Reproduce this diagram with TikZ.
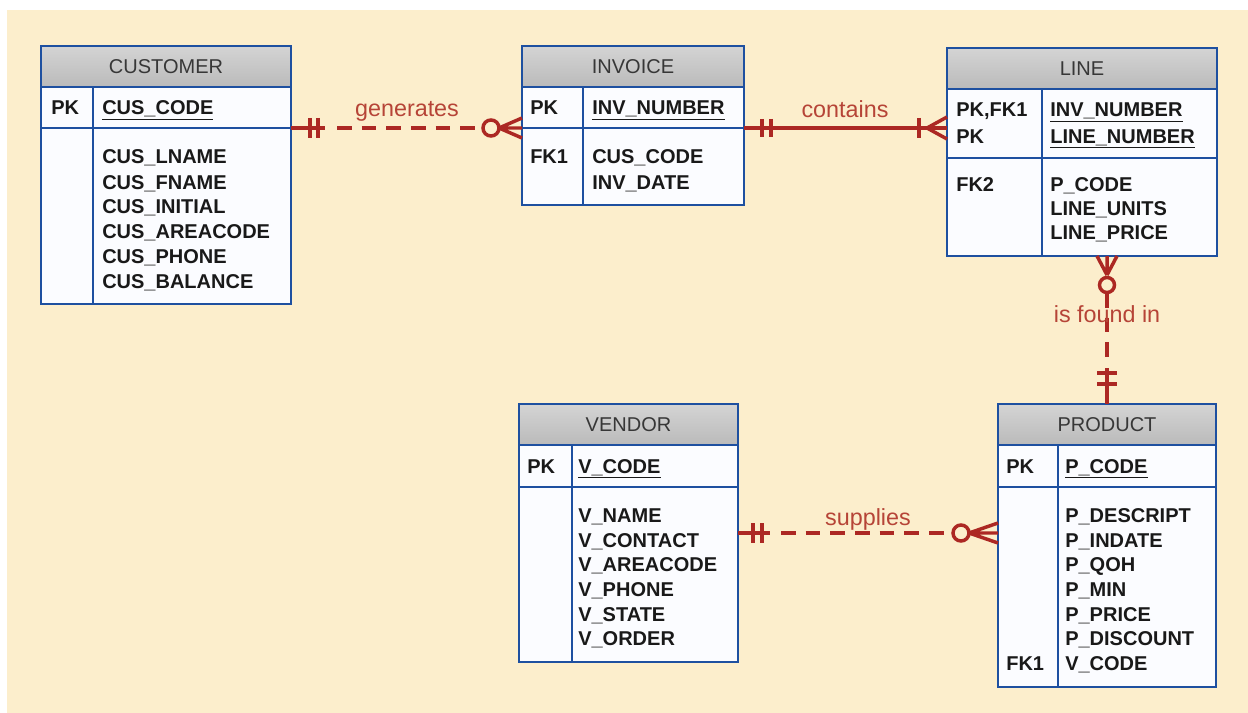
\documentclass[tikz,border=0pt]{standalone}
\usepackage{fontspec}
\setmainfont{Liberation Sans}
\usetikzlibrary{fit,calc}
\definecolor{bgcream}{RGB}{252,238,204}
\definecolor{tblblue}{RGB}{30,80,160}
\definecolor{hdrtop}{RGB}{212,212,212}
\definecolor{hdrbot}{RGB}{186,186,186}
\definecolor{bodyfill}{RGB}{251,252,255}
\definecolor{relred}{RGB}{172,40,35}
\definecolor{lblred}{RGB}{182,68,55}
\definecolor{titlegray}{RGB}{55,55,55}
\definecolor{attrblack}{RGB}{25,25,25}
\tikzset{
  tblbody/.style={draw=tblblue, line width=1.9pt, fill=bodyfill, inner sep=0pt, outer sep=0pt},
  tblhead/.style={draw=tblblue, line width=1.9pt, top color=hdrtop, bottom color=hdrbot, inner sep=0pt, outer sep=0pt},
  tblrow/.style={draw=tblblue, line width=1.9pt, inner sep=0pt, outer sep=0pt},
  tblline/.style={draw=tblblue, line width=1.9pt},
  ttl/.style={text=titlegray, font=\fontsize{15}{18}\selectfont, anchor=base, inner sep=0pt},
  attr/.style={font=\fontsize{15}{18}\selectfont\bfseries, text=attrblack, anchor=base west, inner sep=0pt},
  rel/.style={draw=relred, line width=2.6pt},
  reldash/.style={rel, dash pattern=on 11pt off 7.5pt},
  lbl/.style={text=lblred, font=\fontsize{17.5}{20}\selectfont, anchor=base, inner sep=0pt},
}
\newcommand\ertable[8]{%
  \coordinate (#1-nw) at (#2,#3);
  \coordinate (#1-se) at (#4,#5);
  \coordinate (#1-hb) at (#4,#6);
  \coordinate (#1-kt) at (#2,#6);
  \coordinate (#1-kb) at (#4,#7);
  \coordinate (#1-bt) at (#2,#7);
  \node[tblbody, fit=(#1-nw)(#1-se)] (#1) {};
  \node[tblhead, fit=(#1-nw)(#1-hb)] (#1-h) {};
  \node[tblrow, fit=(#1-kt)(#1-kb)] (#1-k) {};
  \node[tblrow, fit=(#1-bt)(#1-se)] (#1-b) {};
  \draw[tblline] (#8,#6) -- (#8,#5);
}
\begin{document}
\begin{tikzpicture}[x=0.75pt,y=-0.75pt]
\useasboundingbox (0,0) rectangle (1248,713);
\fill[white] (0,0) rectangle (1248,713);
\fill[bgcream] (7,10) rectangle (1248,713);

% ---------- tables ----------
\ertable{cus}{41}{46}{291}{304}{87}{128}{93}
\ertable{inv}{522}{46}{744}{205}{87}{128}{583}
\ertable{lin}{947}{48}{1217}{256}{89}{158}{1042}
\ertable{ven}{519}{404}{738}{662}{445}{487}{572}
\ertable{pro}{998}{404}{1216}{687}{445}{487}{1058}

% CUSTOMER
\node[ttl] (cus-title) at ($(cus-h.center)+(0,7)$) {CUSTOMER};
\node[attr] (cus-pk) at (51,115) {PK};
\node[attr] (cus-a0) at (102,115) {\underline{CUS\_CODE}};
\node[attr] (cus-a1) at (102,164) {CUS\_LNAME};
\node[attr] (cus-a2) at (102,189) {CUS\_FNAME};
\node[attr] (cus-a3) at (102,213.5) {CUS\_INITIAL};
\node[attr] (cus-a4) at (102,238.5) {CUS\_AREACODE};
\node[attr] (cus-a5) at (102,263) {CUS\_PHONE};
\node[attr] (cus-a6) at (102,288) {CUS\_BALANCE};

% INVOICE
\node[ttl] (inv-title) at ($(inv-h.center)+(0,7)$) {INVOICE};
\node[attr] (inv-pk) at (530,115) {PK};
\node[attr] (inv-a0) at (592,115) {\underline{INV\_NUMBER}};
\node[attr] (inv-fk) at (530,164) {FK1};
\node[attr] (inv-a1) at (592,164) {CUS\_CODE};
\node[attr] (inv-a2) at (592,189) {INV\_DATE};

% LINE
\node[ttl] (lin-title) at ($(lin-h.center)+(0,7)$) {LINE};
\node[attr] (lin-pk1) at (956,117) {PK,FK1};
\node[attr] (lin-pk2) at (956,143) {PK};
\node[attr] (lin-a0) at (1050,117) {\underline{INV\_NUMBER}};
\node[attr] (lin-a1) at (1050,143) {\underline{LINE\_NUMBER}};
\node[attr] (lin-fk) at (956,191) {FK2};
\node[attr] (lin-a2) at (1050,191) {P\_CODE};
\node[attr] (lin-a3) at (1050,215) {LINE\_UNITS};
\node[attr] (lin-a4) at (1050,239) {LINE\_PRICE};

% VENDOR
\node[ttl] (ven-title) at ($(ven-h.center)+(0,7)$) {VENDOR};
\node[attr] (ven-pk) at (527,473) {PK};
\node[attr] (ven-a0) at (578,473) {\underline{V\_CODE}};
\node[attr] (ven-a1) at (578,522) {V\_NAME};
\node[attr] (ven-a2) at (578,547) {V\_CONTACT};
\node[attr] (ven-a3) at (578,571.5) {V\_AREACODE};
\node[attr] (ven-a4) at (578,596) {V\_PHONE};
\node[attr] (ven-a5) at (578,621) {V\_STATE};
\node[attr] (ven-a6) at (578,645.5) {V\_ORDER};

% PRODUCT
\node[ttl] (pro-title) at ($(pro-h.center)+(0,7)$) {PRODUCT};
\node[attr] (pro-pk) at (1006,473) {PK};
\node[attr] (pro-a0) at (1065,473) {\underline{P\_CODE}};
\node[attr] (pro-a1) at (1065,522) {P\_DESCRIPT};
\node[attr] (pro-a2) at (1065,547) {P\_INDATE};
\node[attr] (pro-a3) at (1065,571.5) {P\_QOH};
\node[attr] (pro-a4) at (1065,596) {P\_MIN};
\node[attr] (pro-a5) at (1065,621) {P\_PRICE};
\node[attr] (pro-a6) at (1065,645.5) {P\_DISCOUNT};
\node[attr] (pro-fk) at (1006,670.5) {FK1};
\node[attr] (pro-a7) at (1065,670.5) {V\_CODE};

% ---------- generates: CUSTOMER ||----O< INVOICE ----------
\coordinate (gA) at (cus-k.south east);
\coordinate (gB) at (inv-k.south west);
\draw[rel] (gA) -- ($(gA)+(34,0)$);
\draw[rel] ($(gA)+(19,-10)$) -- ($(gA)+(19,10)$);
\draw[rel] ($(gA)+(27,-10)$) -- ($(gA)+(27,10)$);
\draw[reldash] ($(gA)+(46,0)$) -- ($(gB)+(-40,0)$);
\draw[rel] ($(gB)+(-31,0)$) circle[radius=8];
\draw[rel] ($(gB)+(-23,0)$) -- ($(gB)+(0,-10)$)
           ($(gB)+(-23,0)$) -- (gB)
           ($(gB)+(-23,0)$) -- ($(gB)+(0,10)$);
\node[lbl] (lgen) at (407,117) {generates};

% ---------- contains: INVOICE ||----|< LINE ----------
\coordinate (cA) at (inv-k.south east);
\coordinate (cB) at (lin-k.west |- cA);
\draw[rel] (cA) -- (cB);
\draw[rel] ($(cA)+(18,-9)$) -- ($(cA)+(18,9)$);
\draw[rel] ($(cA)+(27,-9)$) -- ($(cA)+(27,9)$);
\draw[rel] ($(cB)+(-28,-10)$) -- ($(cB)+(-28,10)$);
\draw[rel] ($(cB)+(-20,0)$) -- ($(cB)+(0,-11)$)
           ($(cB)+(-20,0)$) -- ($(cB)+(0,11)$);
\node[lbl] (lcon) at (845,118) {contains};

% ---------- is found in: LINE >O----|| PRODUCT ----------
\coordinate (fA) at (lin.south -| pro.north);
\coordinate (fB) at (pro.north);
\draw[rel] ($(fA)+(0,19)$) -- ($(fA)+(-10,0)$)
           ($(fA)+(0,19)$) -- (fA)
           ($(fA)+(0,19)$) -- ($(fA)+(10,0)$);
\draw[rel] ($(fA)+(0,29)$) circle[radius=7.5];
\draw[reldash] ($(fA)+(0,37)$) -- ($(fB)+(0,-38)$);
\draw[rel] ($(fB)+(0,-36)$) -- (fB);
\draw[rel] ($(fB)+(-10,-31)$) -- ($(fB)+(10,-31)$);
\draw[rel] ($(fB)+(-10,-20)$) -- ($(fB)+(10,-20)$);
\node[lbl] (lfnd) at (1107,322) {is found in};

% ---------- supplies: VENDOR ||----O< PRODUCT ----------
\coordinate (sy) at (0,533);
\coordinate (sA) at (ven.east |- sy);
\coordinate (sB) at (pro.west |- sy);
\draw[rel] (sA) -- ($(sA)+(32,0)$);
\draw[rel] ($(sA)+(15,-10)$) -- ($(sA)+(15,10)$);
\draw[rel] ($(sA)+(24,-10)$) -- ($(sA)+(24,10)$);
\draw[reldash] ($(sA)+(43,0)$) -- ($(sB)+(-46,0)$);
\draw[rel] ($(sB)+(-37,0)$) circle[radius=8];
\draw[rel] ($(sB)+(-29,0)$) -- ($(sB)+(0,-10)$)
           ($(sB)+(-29,0)$) -- (sB)
           ($(sB)+(-29,0)$) -- ($(sB)+(0,10)$);
\node[lbl] (lsup) at (868,525) {supplies};
\end{tikzpicture}
\end{document}
